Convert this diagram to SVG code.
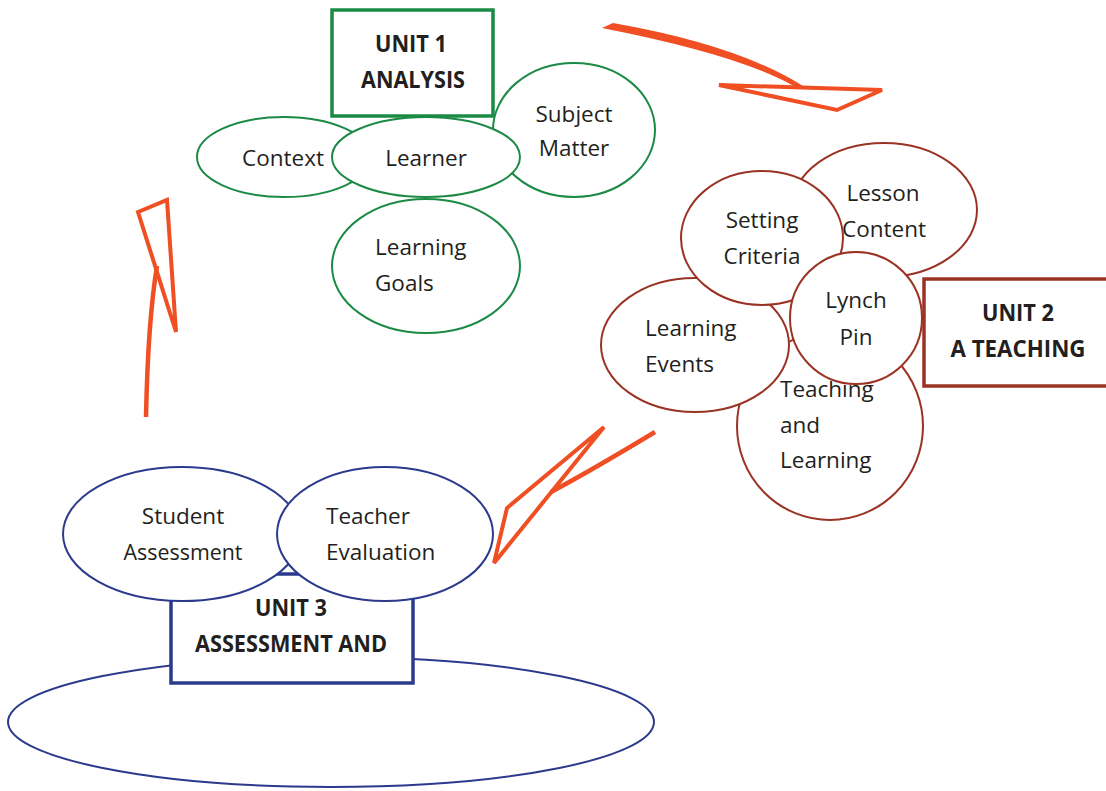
<svg xmlns="http://www.w3.org/2000/svg" width="1106" height="791" viewBox="0 0 1106 791">
<style>
.t{font-family:"Open Sans","DejaVu Sans","Liberation Sans",sans-serif;font-size:22.5px;fill:#231f20}
.b{font-family:"Open Sans","DejaVu Sans","Liberation Sans",sans-serif;font-size:23.5px;font-weight:bold;fill:#231f20}
.m{text-anchor:middle}
.g{fill:#fff;stroke:#1b8a44;stroke-width:2}
.gb{fill:#fff;stroke:#1b8a44;stroke-width:3.5}
.r{fill:#fff;stroke:#9a3324;stroke-width:2}
.rb{fill:#fff;stroke:#9a3324;stroke-width:3.5}
.n{fill:#fff;stroke:#2b3a8c;stroke-width:2}
.nb{fill:#fff;stroke:#2b3a8c;stroke-width:3.5}
.ah{fill:none;stroke:#f04e23;stroke-width:4;stroke-linejoin:miter}
.sh{fill:none;stroke:#f04e23;stroke-width:4.5;stroke-linecap:butt}
</style>
<rect width="1106" height="791" fill="#fff"/>

<!-- Unit 1 -->
<g id="context"><ellipse class="g" cx="284" cy="157" rx="87" ry="40"/><text class="t m" x="283" y="166">Context</text></g>
<g id="subject-matter"><ellipse class="g" cx="574" cy="130" rx="81" ry="67"/><text class="t m" x="574" y="122">Subject</text><text class="t m" x="574" y="156">Matter</text></g>
<g id="learner"><ellipse class="g" cx="426" cy="157" rx="94" ry="40"/><text class="t m" x="426" y="166">Learner</text></g>
<g id="learning-goals"><ellipse class="g" cx="426" cy="266" rx="94" ry="67"/><text class="t" x="375" y="255">Learning</text><text class="t" x="375" y="291">Goals</text></g>
<g id="unit1"><rect class="gb" x="332" y="10" width="161" height="106"/><text class="b m" x="411" y="52" textLength="72" lengthAdjust="spacingAndGlyphs">UNIT 1</text><text class="b m" x="413" y="88" textLength="104" lengthAdjust="spacingAndGlyphs">ANALYSIS</text></g>

<!-- Unit 2 -->
<g id="lesson-content"><ellipse class="r" cx="884" cy="210" rx="93" ry="67"/></g>
<g id="teaching-learning"><ellipse class="r" cx="830" cy="426" rx="93" ry="94"/><text class="t" x="780" y="397">Teaching</text><text class="t" x="780" y="433">and</text><text class="t" x="780" y="468">Learning</text></g>
<g id="learning-events"><ellipse class="r" cx="695" cy="345" rx="94" ry="67"/><text class="t" x="645" y="336">Learning</text><text class="t" x="645" y="372">Events</text></g>
<g id="setting-criteria"><ellipse class="r" cx="762" cy="238" rx="81" ry="67"/><text class="t m" x="762" y="228">Setting</text><text class="t m" x="762" y="264">Criteria</text></g>
<g id="lesson-content-label"><text class="t m" x="883" y="201">Lesson</text><text class="t m" x="884" y="237">Content</text></g>
<g id="lynch-pin"><circle class="r" cx="856" cy="318" r="66"/><text class="t m" x="856" y="308">Lynch</text><text class="t m" x="856" y="345">Pin</text></g>
<g id="unit2"><rect class="rb" x="924" y="279" width="200" height="107"/><text class="b m" x="1018" y="321" textLength="72" lengthAdjust="spacingAndGlyphs">UNIT 2</text><text class="b m" x="1018" y="357" textLength="135" lengthAdjust="spacingAndGlyphs">A TEACHING</text></g>

<!-- Unit 3 -->
<g id="unit3-base"><ellipse class="n" cx="331" cy="722" rx="323" ry="65"/></g>
<g id="unit3"><rect class="nb" x="171" y="574" width="242" height="109"/><text class="b m" x="291" y="616" textLength="72" lengthAdjust="spacingAndGlyphs">UNIT 3</text><text class="b m" x="291" y="652" textLength="192" lengthAdjust="spacingAndGlyphs">ASSESSMENT AND</text></g>
<g id="student-assessment"><ellipse class="n" cx="182" cy="534" rx="119" ry="67"/><text class="t m" x="183" y="524">Student</text><text class="t m" x="183" y="560" textLength="119" lengthAdjust="spacingAndGlyphs">Assessment</text></g>
<g id="teacher-evaluation"><ellipse class="n" cx="385" cy="534" rx="108" ry="67"/><text class="t" x="326" y="524">Teacher</text><text class="t" x="326" y="560">Evaluation</text></g>

<!-- Connectors -->
<g id="connectors">
<path d="M602,28 L613,23 Q738,45 803,86 L799,89 Q745,56 602,28 Z" fill="#f04e23"/>
<polygon class="ah" points="719,85 882,90 837,110"/>
<path class="sh" d="M146,417 Q148,320 157,266"/>
<polygon class="ah" points="138,212 167,200 176,332"/>
<path class="sh" d="M655,432 Q592,470 551,492"/>
<polygon class="ah" points="604,427 507,508 494,563"/>
</g>
</svg>
